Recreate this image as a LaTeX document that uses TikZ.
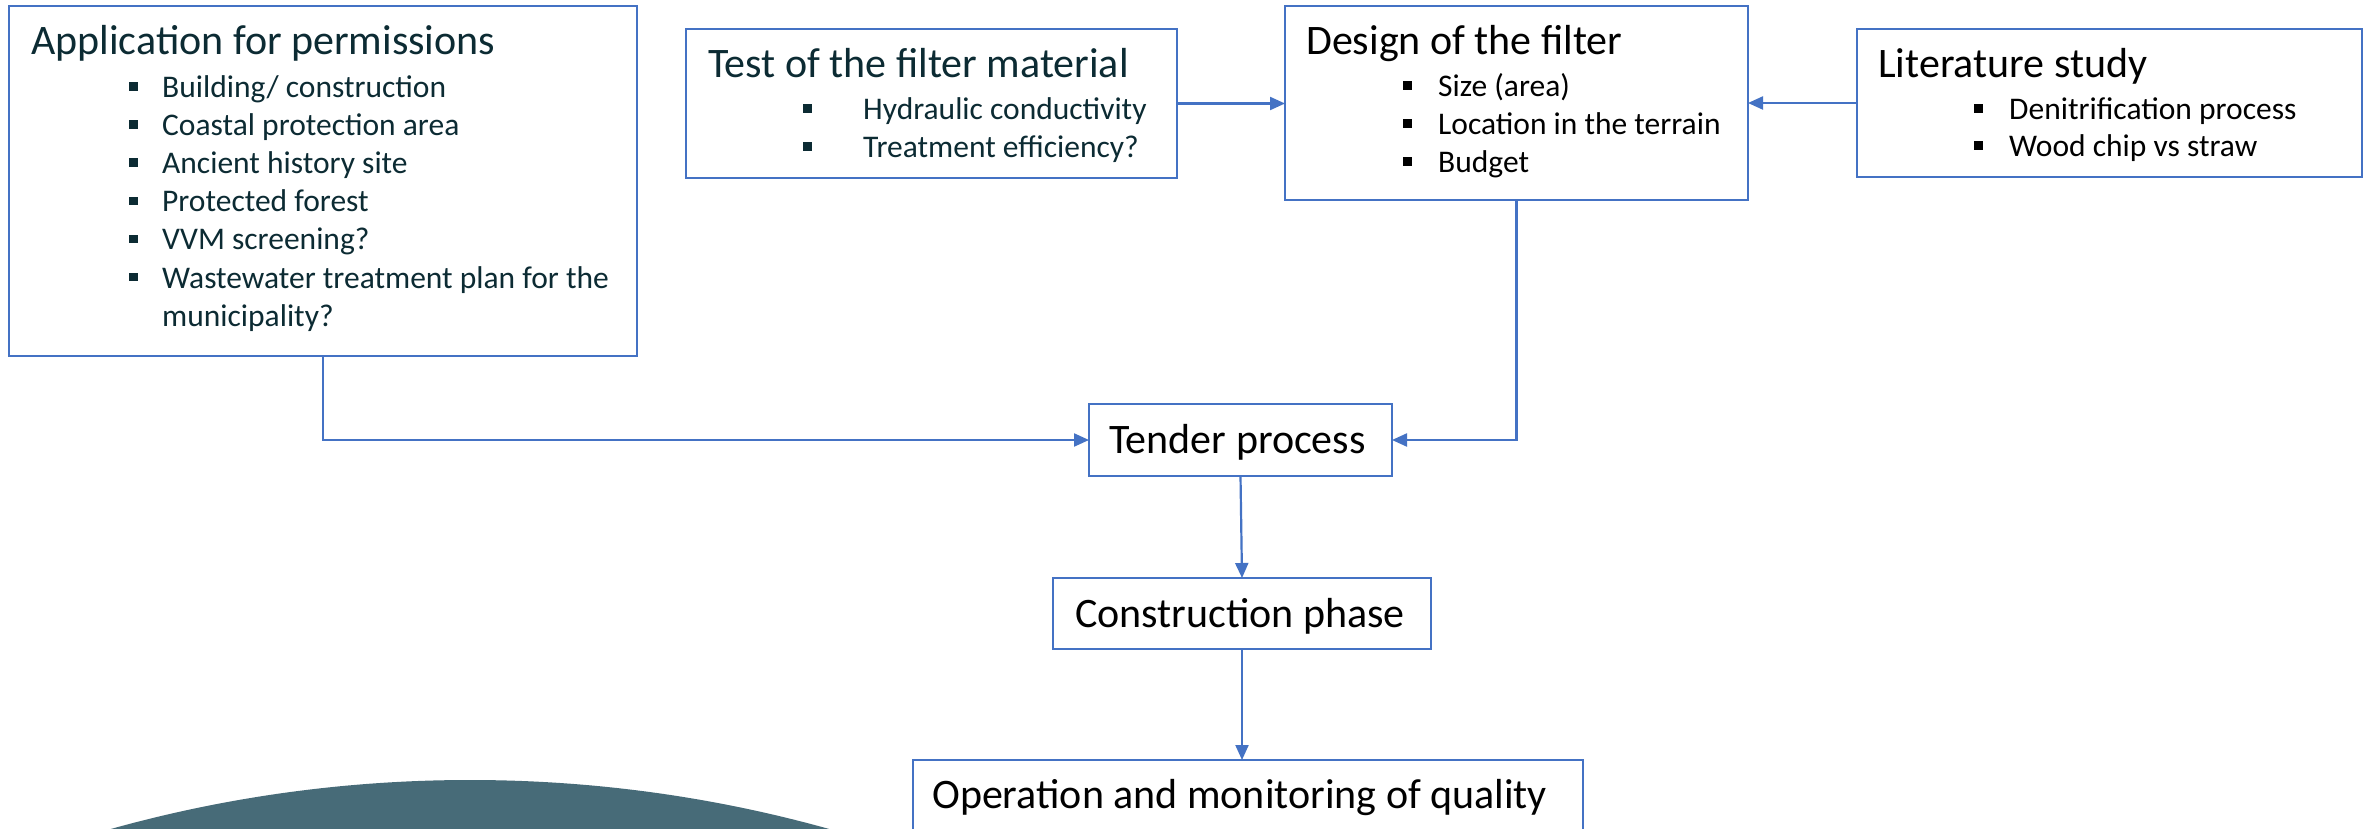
\documentclass[tikz,border=0pt]{standalone}
\usepackage{fontspec}
\setmainfont{Carlito}
\usetikzlibrary{arrows.meta}
\definecolor{boxblue}{HTML}{4472C4}
\definecolor{darkteal}{HTML}{0C2B33}
\definecolor{domecol}{HTML}{476B78}
\newcommand\sqbul{\rule[7pt]{8.5pt}{8.5pt}}
\begin{document}
\begin{tikzpicture}[x=1pt,y=-1pt,
  box/.style={draw=boxblue, line width=2.2pt, inner sep=0pt, outer sep=0pt, anchor=north west},
  conn/.style={draw=boxblue, line width=2.2pt, -{Triangle[length=15pt,width=13pt]}},
  ttl/.style={font=\fontsize{42}{50}\selectfont, anchor=base west, inner sep=0pt},
  itm/.style={font=\fontsize{31.5}{38}\selectfont, anchor=base west, inner sep=0pt},
]
\clip (0,0) rectangle (2369,829);
\fill[white] (0,0) rectangle (2369,829);
\fill[domecol] (470,2112) circle[radius=1332pt];

% boxes
\node[box, minimum width=628pt, minimum height=350pt] (app) at (9,6) {};
\node[box, minimum width=491pt, minimum height=149pt] (test) at (686,29) {};
\node[box, minimum width=463pt, minimum height=194pt] (design) at (1285,6) {};
\node[box, minimum width=505pt, minimum height=148pt] (lit) at (1857,29) {};
\node[box, minimum width=303pt, minimum height=72pt] (tender) at (1089,404) {};
\node[box, minimum width=378pt, minimum height=71pt] (cons) at (1053,578) {};
\node[box, minimum width=670pt, minimum height=140pt] (oper) at (913,760) {};

% texts
\node[ttl, text=darkteal] (appT) at (31,55) {Application for permissions};
\foreach \t [count=\i] in {Building/ construction, Coastal protection area, Ancient history site, Protected forest, VVM screening?, Wastewater treatment plan for the}
  \node[itm, text=darkteal] (app\i) at (129,{98+38*(\i-1)}) {\makebox[33pt][l]{\sqbul}\t};
\node[itm, text=darkteal] (app7) at (162,326) {municipality?};

\node[ttl, text=darkteal] (testT) at (708,78) {Test of the filter material};
\node[itm, text=darkteal] (test1) at (803,120) {\makebox[60pt][l]{\sqbul}Hydraulic conductivity};
\node[itm, text=darkteal] (test2) at (803,158) {\makebox[60pt][l]{\sqbul}Treatment efficiency?};

\node[ttl] (designT) at (1306,55) {Design of the filter};
\node[itm] (design1) at (1403,97) {\makebox[35pt][l]{\sqbul}Size (area)};
\node[itm] (design2) at (1403,135) {\makebox[35pt][l]{\sqbul}Location in the terrain};
\node[itm] (design3) at (1403,173) {\makebox[35pt][l]{\sqbul}Budget};

\node[ttl] (litT) at (1878,78) {Literature study};
\node[itm] (lit1) at (1974,120) {\makebox[35pt][l]{\sqbul}Denitrification process};
\node[itm] (lit2) at (1974,157) {\makebox[35pt][l]{\sqbul}Wood chip vs straw};

\node[ttl] (tenderT) at (1109,453) {Tender process};
\node[ttl] (consT) at (1075,627) {Construction phase};
\node[ttl] (operT) at (932,808) {Operation and monitoring of quality};

% connectors
\draw[conn] (app.south) |- (tender.west);
\draw[conn] (design.south) |- (tender.east);
\draw[conn] (test.east) -- (test.east -| design.west);
\draw[conn] (lit.west) -- (lit.west -| design.east);
\draw[conn] (tender.south) -- (cons.north);
\draw[conn] (cons.south) -- (cons.south |- oper.north);
\end{tikzpicture}
\end{document}
